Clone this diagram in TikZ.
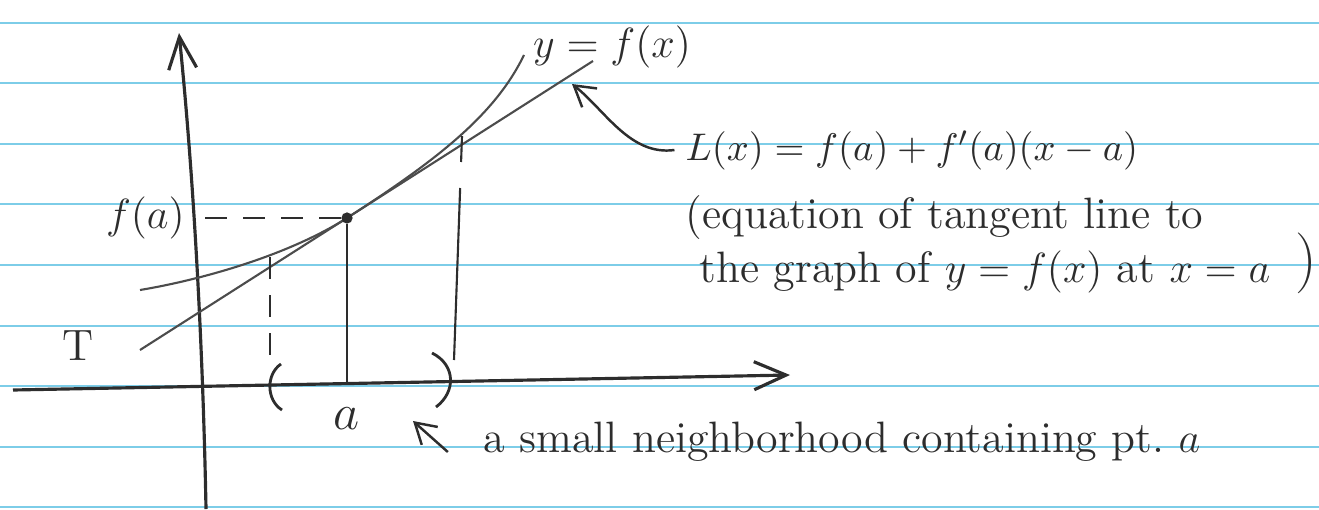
\documentclass[tikz,border=0pt]{standalone}
\usepackage{amsmath}
\usepackage{tikz}
\usetikzlibrary{positioning, arrows.meta, calc}

\definecolor{rulecol}{RGB}{125,205,232}
\definecolor{ink}{RGB}{45,45,45}

\begin{document}
\begin{tikzpicture}[
    x=0.01cm, y=-0.01cm,
    every node/.style={font=\fontsize{12.5}{15}\selectfont, text=ink},
    rule/.style={rulecol, line width=0.5pt},
    axis/.style={ink, line width=0.9pt, -{Straight Barb[length=3.2mm, width=2.8mm, line width=0.9pt]}},
    graph/.style={ink!85, line width=0.6pt},
    guide/.style={ink, line width=0.6pt, dash pattern=on 2.2mm off 1.6mm},
    drop/.style={ink, line width=0.6pt},
    brace/.style={ink, line width=0.8pt},
    dot/.style={circle, fill=ink, inner sep=0pt, minimum size=3.2pt},
    lbl/.style={inner sep=1pt},
    note/.style={anchor=base west, inner sep=0pt},
    arrow/.style={ink, line width=0.7pt, -{Straight Barb[length=2mm, width=2.4mm, line width=0.7pt]}},
]
\useasboundingbox (0,0) rectangle (1319,509);

% --- ruled paper ---
\foreach \ry in {23, 83, 144, 204, 265, 326, 386, 447, 507}
  \draw[rule] (0,\ry) -- (1319,\ry);

% --- axes ---
\coordinate (xl) at (13,390);
\coordinate (xr) at (790,375);
\coordinate (yb) at (206,509);
\coordinate (yt) at (179,33);
\draw[axis] (xl) -- (xr);
\draw[axis] (yb) .. controls (203,350) and (194,180) .. (yt);

% --- tangent line T and the graph of f ---
\coordinate (tl) at (140,350);
\coordinate (tr) at (593,61);
\coordinate (A)  at (347,218);
\draw[graph] (tl) -- (tr);
\draw[graph] (140,290) .. controls (200,280) and (287,256) .. (A)
             .. controls (437,160) and (495,115) .. (524,55);
\node[dot] (pta) at (A) {};

% --- f(a) and a ---
\coordinate (fa) at (196,218);
\coordinate (ax) at (347,383.6);
\draw[guide] (pta) -- (fa);
\draw[drop]  (pta) -- (ax);
\node[lbl, left=2pt of fa]   (falbl) {$f(a)$};
\node[lbl, below=0.2cm of ax, font=\fontsize{14}{16}\selectfont] (albl) {$a$};

% --- neighborhood of a ---
\coordinate (pt) at (270,257);
\coordinate (pb) at (270,368);
\coordinate (qt) at (462,136);
\coordinate (qb) at (454,360);
\draw[guide] (pt) -- (pb);
\draw[guide, dash pattern=on 2.6mm off 2.6mm on 20mm off 1mm] (qt) -- (qb);
\draw[brace] (281,364) .. controls (266,374) and (266,400) .. (282,410);
\draw[brace] (432,353) .. controls (456,365) and (456,392) .. (436,407);

% --- labels ---
\node[lbl] (tlbl) at (78,346) {T};
\node[lbl] (ylbl) at (612,47) {$y=f(x)$};
\node[note, font=\fontsize{11}{13}\selectfont] (eqn) at (685,160) {$L(x)=f(a)+f'(a)(x-a)$};
\node[note] (note1) at (685,228) {(equation of tangent line to};
\node[note] (note2) at (699,282) {the graph of $y=f(x)$ at $x=a$};
\node[lbl, font=\LARGE, text=ink] (rparen) at (1306,263) {)};
\node[note] (nbhd)  at (483,452) {a small neighborhood containing pt.~$a$};

% --- pointers ---
\coordinate (tip) at (572,84);
\coordinate (nb)  at (413,421);
\draw[arrow] ([xshift=-3pt]eqn.west) .. controls (630,156) and (605,110) .. (tip);
\draw[arrow] ([xshift=-10pt]nbhd.base west) -- (nb);
\end{tikzpicture}
\end{document}
